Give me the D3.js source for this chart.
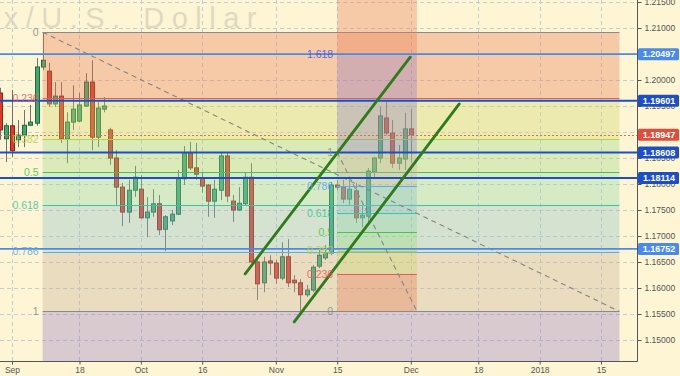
<!DOCTYPE html>
<html>
<head>
<meta charset="utf-8">
<script src="https://cdn.jsdelivr.net/npm/d3@7"></script>
<style>
  body { margin: 0; background: #fef5d5; }
  svg { display: block; font-family: "Liberation Sans", Arial, sans-serif; }
</style>
</head>
<body>
<div id="chart"></div>
<script>
// EUR/USD daily bars, one per weekday from 2017-08-30 to 2017-12-01
const open  = [1.1975, 1.1887, 1.1912, 1.1885, 1.1894, 1.1913, 1.1917, 1.2025, 1.2017, 1.1954,
               1.1969, 1.1887, 1.1919, 1.1921, 1.1950, 1.1996, 1.1890, 1.1944, 1.1904, 1.1850,
               1.1794, 1.1746, 1.1788, 1.1790, 1.1735, 1.1746, 1.1762, 1.1713, 1.1729, 1.1742,
               1.1810, 1.1860, 1.1831, 1.1812, 1.1798, 1.1767, 1.1788, 1.1854, 1.1767, 1.1750,
               1.1762, 1.1813, 1.1650, 1.1610, 1.1652, 1.1648, 1.1619, 1.1660, 1.1615, 1.1610,
               1.1587, 1.1596, 1.1642, 1.1658, 1.1667, 1.1798, 1.1794, 1.1771, 1.1787, 1.1735,
               1.1738, 1.1823, 1.1850, 1.1927, 1.1898, 1.1840, 1.1848, 1.1906]
const high  = [1.1985, 1.1917, 1.1981, 1.1923, 1.1942, 1.1952, 1.2042, 1.2092, 1.2033, 1.1996,
               1.1996, 1.1938, 1.1990, 1.1975, 1.2013, 1.2038, 1.1958, 1.1967, 1.1908, 1.1865,
               1.1802, 1.1808, 1.1835, 1.1817, 1.1775, 1.1790, 1.1779, 1.1740, 1.1750, 1.1827,
               1.1873, 1.1881, 1.1879, 1.1823, 1.1800, 1.1808, 1.1860, 1.1860, 1.1779, 1.1794,
               1.1823, 1.1840, 1.1658, 1.1660, 1.1663, 1.1654, 1.1688, 1.1694, 1.1625, 1.1617,
               1.1606, 1.1644, 1.1673, 1.1683, 1.1804, 1.1808, 1.1808, 1.1813, 1.1802, 1.1760,
               1.1831, 1.1852, 1.1948, 1.1961, 1.1923, 1.1875, 1.1937, 1.1944]
const low   = [1.1885, 1.1842, 1.1852, 1.1871, 1.1871, 1.1912, 1.1912, 1.2019, 1.1948, 1.1948,
               1.1879, 1.1840, 1.1904, 1.1919, 1.1948, 1.1865, 1.1871, 1.1938, 1.1837, 1.1760,
               1.1719, 1.1725, 1.1775, 1.1733, 1.1698, 1.1737, 1.1702, 1.1671, 1.1721, 1.1740,
               1.1798, 1.1827, 1.1808, 1.1783, 1.1737, 1.1735, 1.1769, 1.1765, 1.1727, 1.1748,
               1.1760, 1.1648, 1.1577, 1.1592, 1.1625, 1.1608, 1.1615, 1.1602, 1.1592, 1.1556,
               1.1583, 1.1592, 1.1638, 1.1654, 1.1663, 1.1788, 1.1763, 1.1760, 1.1725, 1.1717,
               1.1727, 1.1813, 1.1840, 1.1894, 1.1831, 1.1827, 1.1827, 1.1842]
const close = [1.1904, 1.1912, 1.1864, 1.1894, 1.1913, 1.1919, 1.2025, 1.2038, 1.1954, 1.1969,
               1.1887, 1.1919, 1.1944, 1.1952, 1.1996, 1.1890, 1.1946, 1.1950, 1.1850, 1.1794,
               1.1746, 1.1788, 1.1813, 1.1735, 1.1746, 1.1762, 1.1712, 1.1737, 1.1742, 1.1810,
               1.1860, 1.1831, 1.1819, 1.1796, 1.1767, 1.1790, 1.1854, 1.1777, 1.1750, 1.1763,
               1.1813, 1.1650, 1.1608, 1.1650, 1.1648, 1.1619, 1.1660, 1.1610, 1.1610, 1.1587,
               1.1596, 1.1640, 1.1663, 1.1667, 1.1798, 1.1794, 1.1771, 1.1790, 1.1735, 1.1740,
               1.1825, 1.1850, 1.1931, 1.1898, 1.1840, 1.1850, 1.1906, 1.1895]

const tickDates  = ['2017-09-01', '2017-09-18', '2017-10-02', '2017-10-16', '2017-11-01',
                    '2017-11-15', '2017-12-01', '2017-12-18', '2018-01-01', '2018-01-15']
const tickLabels = ['Sep', '18', 'Oct', '16', 'Nov', '15', 'Dec', '18', '2018', '15']

// horizontal levels drawn across the chart, with their price tags
const levelPrices = [1.20497, 1.19601, 1.18608, 1.18114, 1.16752]
const levelColors = ['#4a8be8', '#1d4fc4', '#1d4fc4', '#1d4fc4', '#4a8be8']
const lastPrice = 1.18947

// fib retracement: level 0 at the Sep 8 high, 1 at the Nov 7 low
const retrLevels = [0, 0.236, 0.382, 0.5, 0.618, 0.786, 1, 1.618]
const retr = { p0: 1.2092, p1: 1.1555, d0: '2017-09-08', d1: '2018-01-18' }
// fib extension band: 0 at the low, 1 at the Nov 15 level
const extLevels = [0, 0.236, 0.382, 0.5, 0.618, 0.786, 1, 1.618, 2.618]
const ext = { p0: 1.1555, p1: 1.1861, d0: '2017-11-15', d1: '2017-12-04' }

// trend channel, [dayIndex, price]
const channelUpper = [[40.0, 1.1627], [66.9, 1.2044]]
const channelLower = [[48.0, 1.1535], [74.9, 1.1954]]

const lineColor = { 0: '#8a8a8a', 0.236: '#e85a5a', 0.382: '#b5d23e', 0.5: '#4cc24c', 0.618: '#38c89c',
                    0.786: '#62a8e6', 1: '#8a8a8a', 1.618: '#4a52dc', 2.618: '#e05050' }
const zoneColor = { 0.236: '#e77a54', 0.382: '#cbd86b', 0.5: '#97db82', 0.618: '#8cd6aa',
                    0.786: '#89bfc7', 1: '#c2ae99', 1.618: '#917ac7', 2.618: '#e77a54' }

// weekdays starting Aug 30 2017
const fmt = d3.timeFormat('%Y-%m-%d')
const days = []
for (let d = new Date(2017, 7, 30); days.length < 110; d.setDate(d.getDate() + 1))
    if (d.getDay() % 6 !== 0) days.push(fmt(d))
const dayIdx = s => days.indexOf(s)

const width = 680, height = 376
const plotR = 637, plotB = 361

const x = d3.scaleLinear().domain([dayIdx('2017-09-01'), dayIdx('2018-01-15')]).range([12, 601])
const y = d3.scaleLinear().domain([1.15, 1.21]).range([340, 28])

const svg = d3.select('#chart').append('svg')
    .attr('width', width).attr('height', height)

svg.append('rect').attr('width', width).attr('height', height).attr('fill', '#fef5d5')

svg.append('defs').append('clipPath').attr('id', 'plot')
    .append('rect').attr('width', plotR).attr('height', plotB)

// watermark
svg.append('text')
    .attr('x', 264).attr('y', 28)
    .attr('text-anchor', 'end')
    .style('font-size', '29px')
    .style('letter-spacing', '7.5px')
    .attr('fill', '#6b6b6b').attr('opacity', 0.2)
    .text('Euro Fx/U.S. Dollar')

const plot = svg.append('g').attr('clip-path', 'url(#plot)')

// grid
const yTicks = d3.range(1.15, 1.2151, 0.005)
const xTicks = tickDates.map(dayIdx)
plot.selectAll('line.vgrid').data(xTicks).enter().append('line')
    .attr('x1', d => Math.round(x(d)) + 0.5).attr('x2', d => Math.round(x(d)) + 0.5)
    .attr('y1', 0).attr('y2', plotB)
    .attr('stroke', '#c6cbd8').attr('stroke-dasharray', '4,3')
plot.selectAll('line.hgrid').data(yTicks).enter().append('line')
    .attr('x1', 0).attr('x2', plotR)
    .attr('y1', d => Math.round(y(d)) + 0.5).attr('y2', d => Math.round(y(d)) + 0.5)
    .attr('stroke', '#c6cbd8').attr('stroke-dasharray', '4,3')

// candles
const bars = open.map((o, i) => ({ k: i, o, h: high[i], l: low[i], c: close[i] }))
const cx = d => Math.round(x(d.k))

const candle = plot.selectAll('g.candle').data(bars).enter().append('g')
candle.append('line')
    .attr('x1', d => cx(d) + 0.5).attr('x2', d => cx(d) + 0.5)
    .attr('y1', d => y(d.h)).attr('y2', d => y(d.l))
    .attr('stroke', '#707070')
candle.append('rect')
    .attr('x', d => cx(d) - 1.5).attr('width', 4)
    .attr('y', d => y(Math.max(d.o, d.c)))
    .attr('height', d => Math.max(1, Math.abs(y(d.o) - y(d.c))))
    .attr('fill', d => d.c >= d.o ? '#45a572' : '#d43d2c')
    .attr('stroke', d => d.c >= d.o ? '#21683f' : '#8a261a')

// fib tools: translucent zones over the candles, level lines and labels
const fibTool = (t, levels, labelled) => {
    const p = lv => t.p0 + lv * (t.p1 - t.p0)
    const xl = x(dayIdx(t.d0)), xr = x(dayIdx(t.d1))
    plot.selectAll(null).data(d3.pairs(levels)).enter().append('rect')
        .attr('x', xl).attr('width', xr - xl)
        .attr('y', d => Math.min(y(p(d[0])), y(p(d[1]))))
        .attr('height', d => Math.abs(y(p(d[0])) - y(p(d[1]))))
        .attr('fill', d => zoneColor[d[1]]).attr('opacity', 0.35)
    plot.selectAll(null).data(labelled).enter().append('line')
        .attr('x1', xl).attr('x2', xr)
        .attr('y1', d => Math.round(y(p(d))) + 0.5).attr('y2', d => Math.round(y(p(d))) + 0.5)
        .attr('stroke', d => lineColor[d]).attr('stroke-width', 1.2)
    svg.selectAll(null).data(labelled).enter().append('text')
        .attr('x', xl - 4).attr('y', d => y(p(d)))
        .attr('dy', '0.36em').attr('text-anchor', 'end')
        .style('font-size', '10.5px')
        .attr('fill', d => lineColor[d]).attr('opacity', 0.85)
        .text(d => d)
}

fibTool(retr, retrLevels, retrLevels.slice(0, 7))
fibTool(ext, extLevels, extLevels.slice(0, 8))

// diagonals of both tools
const diag = [[retr.d0, retr.p0, retr.d1, retr.p1], [ext.d0, ext.p1, ext.d1, ext.p0]]
plot.selectAll(null).data(diag).enter().append('line')
    .attr('x1', d => x(dayIdx(d[0]))).attr('y1', d => y(d[1]))
    .attr('x2', d => x(dayIdx(d[2]))).attr('y2', d => y(d[3]))
    .attr('stroke', '#858585').attr('stroke-width', 1.1).attr('stroke-dasharray', '5,4')

// horizontal levels
plot.selectAll(null).data(levelPrices).enter().append('line')
    .attr('x1', 0).attr('x2', plotR)
    .attr('y1', d => y(d)).attr('y2', d => y(d))
    .attr('stroke', (d, i) => levelColors[i])
    .attr('stroke-width', (d, i) => levelColors[i] === '#1d4fc4' ? 2 : 1.6)

plot.append('line')
    .attr('x1', 0).attr('x2', plotR)
    .attr('y1', Math.round(y(lastPrice)) + 0.5).attr('y2', Math.round(y(lastPrice)) + 0.5)
    .attr('stroke', '#e46a48').attr('stroke-dasharray', '2,2')

// trend channel
const line = d3.line().x(d => x(d[0])).y(d => y(d[1]))
plot.selectAll(null).data([channelUpper, channelLower]).enter().append('path')
    .attr('d', line)
    .attr('fill', 'none').attr('stroke', '#2f7a1c').attr('stroke-width', 2.8)
    .attr('stroke-linecap', 'round')

// axes
svg.append('line').attr('x1', plotR + 0.5).attr('x2', plotR + 0.5).attr('y1', 0).attr('y2', plotB + 0.5)
    .attr('stroke', '#555')
svg.append('line').attr('x1', 0).attr('x2', plotR + 0.5).attr('y1', plotB + 0.5).attr('y2', plotB + 0.5)
    .attr('stroke', '#555')

const yAxis = svg.append('g')
    .attr('transform', `translate(${plotR + 0.5},0)`)
    .call(d3.axisRight(y).tickValues(yTicks).tickFormat(d3.format('.5f')).tickSize(4).tickPadding(3))
yAxis.select('.domain').remove()

const xAxis = svg.append('g')
    .attr('transform', `translate(0,${plotB + 0.5})`)
    .call(d3.axisBottom(x).tickValues(xTicks).tickFormat((d, i) => tickLabels[i]).tickSize(3).tickPadding(2))
xAxis.select('.domain').remove()

svg.selectAll('.tick line').attr('stroke', '#555')
svg.selectAll('.tick text').attr('fill', '#555').style('font-size', '8.5px')
    .style('font-family', '"Liberation Sans", Arial, sans-serif')

// price tags
const tags = levelPrices.map((v, i) => ({ v, color: levelColors[i] }))
    .concat([{ v: lastPrice, color: '#dc4f3c' }])
const tag = svg.selectAll('g.tag').data(tags).enter().append('g')
    .attr('transform', d => `translate(${plotR + 1},${y(d.v)})`)
tag.append('rect')
    .attr('x', 0).attr('y', -6).attr('width', 41).attr('height', 12).attr('rx', 1.5)
    .attr('fill', d => d.color)
tag.append('text')
    .attr('x', 21).attr('dy', '0.35em').attr('text-anchor', 'middle')
    .style('font-size', '9px').style('font-weight', 'bold')
    .attr('fill', '#fff')
    .text(d => d3.format('.5f')(d.v))
</script>
</body>
</html>
